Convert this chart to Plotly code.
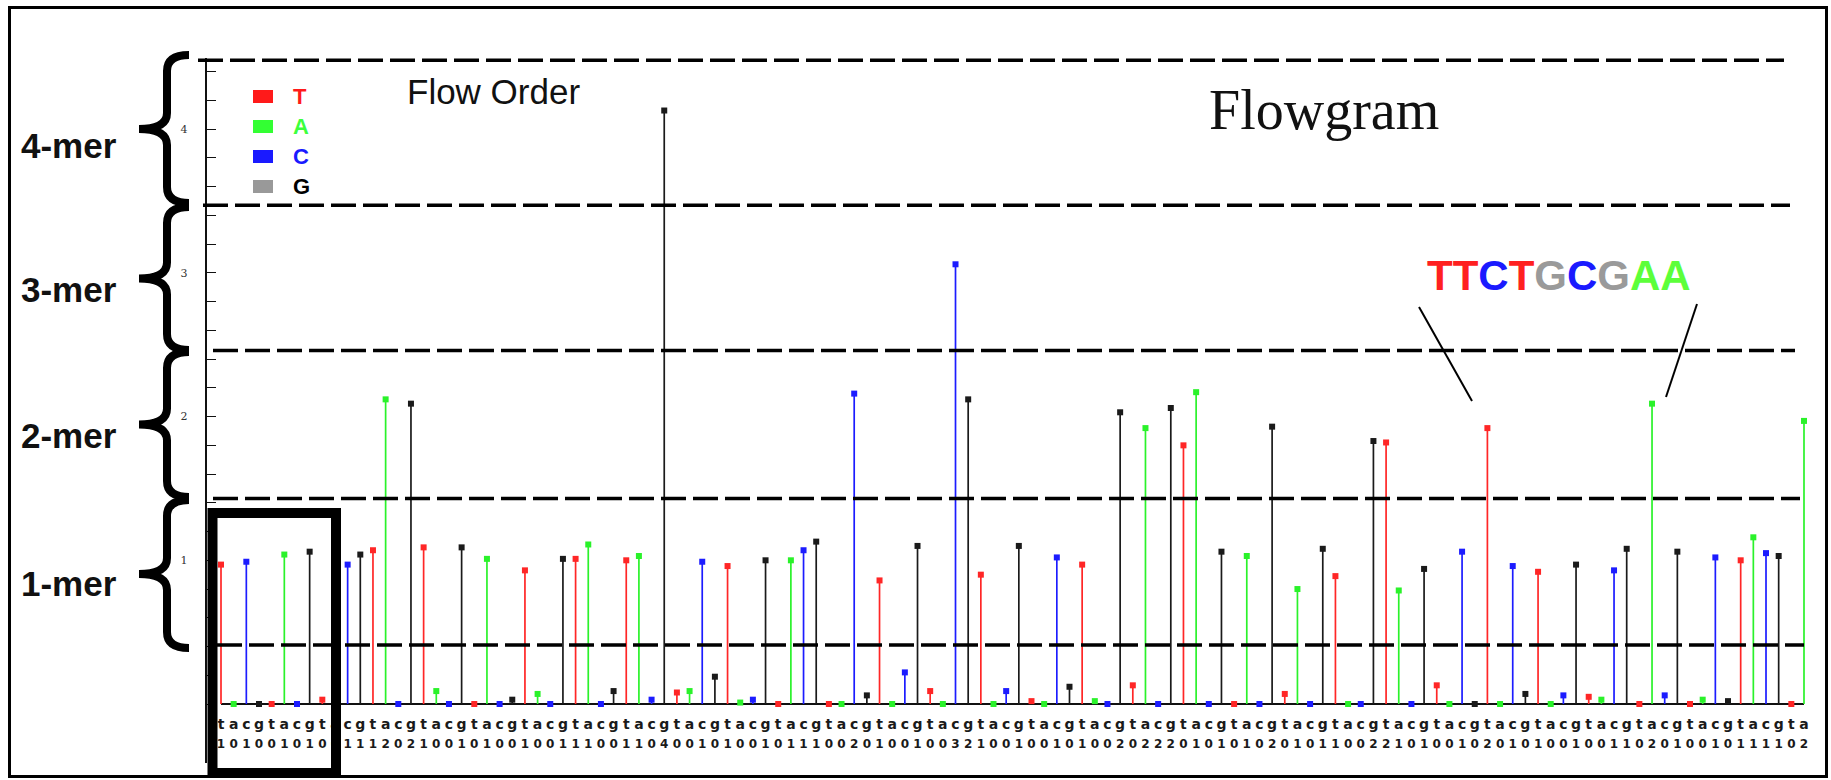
import plotly.graph_objects as go

# ---------------- data ----------------
flow_order = ["T", "A", "C", "G"]

flow_values = [
    0.97, 0.00, 0.99, 0.00, 0.00, 1.04, 0.00, 1.06, 0.03, 0.06,
    0.97, 1.04, 1.07, 2.12, 0.00, 2.09, 1.09, 0.09, 0.00, 1.09,
    0.00, 1.01, 0.00, 0.03, 0.93, 0.07, 0.00, 1.01, 1.01, 1.11,
    0.00, 0.09, 1.00, 1.03, 0.03, 4.13, 0.08, 0.09, 0.99, 0.19,
    0.96, 0.01, 0.03, 1.00, 0.00, 1.00, 1.07, 1.13, 0.00, 0.00,
    2.16, 0.06, 0.86, 0.00, 0.22, 1.10, 0.09, 0.00, 3.06, 2.12,
    0.90, 0.00, 0.09, 1.10, 0.02, 0.00, 1.02, 0.12, 0.97, 0.02,
    0.00, 2.03, 0.13, 1.92, 0.00, 2.06, 1.80, 2.17, 0.00, 1.06,
    0.00, 1.03, 0.00, 1.93, 0.07, 0.80, 0.00, 1.08, 0.89, 0.00,
    0.00, 1.83, 1.82, 0.79, 0.00, 0.94, 0.13, 0.00, 1.06, 0.00,
    1.92, 0.00, 0.96, 0.07, 0.92, 0.00, 0.06, 0.97, 0.05, 0.03,
    0.93, 1.08, 0.00, 2.09, 0.06, 1.06, 0.00, 0.03, 1.02, 0.02,
    1.00, 1.16, 1.05, 1.03, 0.00, 1.97,
]

called_digits = (
    "1010010100" "1112021001" "0100100111" "0011040010"
    "1001011100" "2010010032" "1001001010" "0202220101"
    "0102010110" "0221010010" "2010100100" "1102010010"
    "111102"
)

y_tick_values = [round(0.2 * k, 1) for k in range(0, 23)]
y_tick_labels = ["1", "2", "3", "4"]

mer_labels = ["4-mer", "3-mer", "2-mer", "1-mer"]
mer_thresholds = [0.41, 1.43, 2.46, 3.47, 4.48]

highlight_seq = "TTCTGCGAA"

# ---------------- styles ----------------
stem_colors = {"T": "#ff2626", "A": "#2af22a", "C": "#1c1cff", "G": "#1a1a1a"}
swatch_colors = {"T": "#ff1a1a", "A": "#33ff33", "C": "#1a1aff", "G": "#999999"}
legend_text_colors = {"T": "#ff1a1a", "A": "#3dff3d", "C": "#1a1aff", "G": "#000000"}
seq_colors = {"T": "#ff2020", "C": "#1a1aff", "G": "#9a9a9a", "A": "#5cff3a"}

W, H = 1831, 780


def X(p):
    return p / W


def Y(p):
    return (H - p) / H


# pixel geometry of the plotting frame
first_px, last_px = 221.0, 1804.0
n = len(flow_values)
step = (last_px - first_px) / (n - 1)
x_lo = 1 - first_px / step
x_hi = 1 + (W - first_px) / step

base_px, unit_px = 704.0, 143.7
y_top_px, y_bot_px = 58.0, 763.0
y_lo = (base_px - y_bot_px) / unit_px
y_hi = (base_px - y_top_px) / unit_px

flows = list(range(1, n + 1))
nucs = [flow_order[(i - 1) % 4] for i in flows]

fig = go.Figure()

# baseline
fig.add_trace(go.Scatter(x=[flows[0], flows[-1]], y=[0, 0], mode="lines",
                         line=dict(color="#111111", width=2),
                         hoverinfo="skip", showlegend=False))

for nuc in flow_order:
    xs, ys, mx, my = [], [], [], []
    for i, v, b in zip(flows, flow_values, nucs):
        if b != nuc:
            continue
        xs += [i, i, None]
        ys += [0, v, None]
        mx.append(i)
        my.append(v)
    fig.add_trace(go.Scatter(x=xs, y=ys, mode="lines",
                             line=dict(color=stem_colors[nuc], width=1.7),
                             hoverinfo="skip", showlegend=False))
    fig.add_trace(go.Scatter(x=mx, y=my, mode="markers",
                             marker=dict(symbol="square", size=6, color=stem_colors[nuc],
                                         line=dict(width=0)),
                             cliponaxis=False, name=nuc, showlegend=False))

# flow letters and called digits under the baseline
fig.add_trace(go.Scatter(x=flows, y=[-0.148] * n, mode="text",
                         text=[f"<b>{b.lower()}</b>" for b in nucs],
                         textfont=dict(family="DejaVu Sans", size=14, color="#1a1a1a"),
                         hoverinfo="skip", showlegend=False, cliponaxis=False))
fig.add_trace(go.Scatter(x=flows, y=[-0.287] * n, mode="text",
                         text=[f"<b>{d}</b>" for d in called_digits],
                         textfont=dict(family="DejaVu Sans", size=12, color="#1a1a1a"),
                         hoverinfo="skip", showlegend=False, cliponaxis=False))

shapes = []
# dashed k-mer threshold lines
dash_extents = [(217, 1804), (213, 1800), (213, 1795), (203, 1790), (198, 1784)]
for thr, (a, b) in zip(mer_thresholds, dash_extents):
    shapes.append(dict(type="line", xref="paper", yref="y", x0=X(a), x1=X(b),
                       y0=thr, y1=thr, line=dict(color="black", width=3.5, dash="25px,7px"),
                       layer="above"))

# braces
brace_bounds = [(55, 203), (207, 350), (352, 497), (500, 648)]


def brace_path(yt, yb, xs=167, xt=139, xe=189, r=16):
    ym = (yt + yb) / 2
    pts = [
        f"M {X(xe)},{Y(yt)}",
        f"Q {X(xs)},{Y(yt)} {X(xs)},{Y(yt + r)}",
        f"L {X(xs)},{Y(ym - r)}",
        f"Q {X(xs)},{Y(ym)} {X(xt)},{Y(ym)}",
        f"Q {X(xs)},{Y(ym)} {X(xs)},{Y(ym + r)}",
        f"L {X(xs)},{Y(yb - r)}",
        f"Q {X(xs)},{Y(yb)} {X(xe)},{Y(yb)}",
    ]
    return " ".join(pts)


for yt, yb in brace_bounds:
    shapes.append(dict(type="path", xref="paper", yref="paper", path=brace_path(yt, yb),
                       line=dict(color="black", width=8), fillcolor="rgba(0,0,0,0)",
                       layer="above"))

# highlight box around first flows
shapes.append(dict(type="rect", xref="paper", yref="paper",
                   x0=X(212.5), x1=X(336), y0=Y(773), y1=Y(513),
                   line=dict(color="black", width=10), layer="above"))

# outer border
shapes.append(dict(type="rect", xref="paper", yref="paper",
                   x0=X(9.5), x1=X(1826.5), y0=Y(776.5), y1=Y(7.5),
                   line=dict(color="black", width=3), layer="above"))

# pointer lines from the sequence annotation
shapes.append(dict(type="line", xref="paper", yref="paper",
                   x0=X(1419), y0=Y(307), x1=X(1472), y1=Y(401),
                   line=dict(color="black", width=2), layer="above"))
shapes.append(dict(type="line", xref="paper", yref="paper",
                   x0=X(1697), y0=Y(304), x1=X(1666), y1=Y(397),
                   line=dict(color="black", width=2), layer="above"))

# legend swatches
legend_y = [96.5, 126.5, 156.5, 186.5]
for nuc, yc in zip(flow_order, legend_y):
    shapes.append(dict(type="rect", xref="paper", yref="paper",
                       x0=X(253), x1=X(273), y0=Y(yc + 6.5), y1=Y(yc - 6.5),
                       fillcolor=swatch_colors[nuc], line=dict(width=0), layer="above"))

annotations = []
for nuc, yc in zip(flow_order, legend_y):
    annotations.append(dict(xref="paper", yref="paper", x=X(291), y=Y(yc), xanchor="left",
                            yanchor="middle", showarrow=False, text=f"<b>{nuc}</b>",
                            font=dict(family="Liberation Sans", size=22,
                                      color=legend_text_colors[nuc])))

annotations.append(dict(xref="paper", yref="paper", x=X(405), y=Y(91.5), xanchor="left",
                        yanchor="middle", showarrow=False, text="Flow Order",
                        font=dict(family="Liberation Sans", size=35, color="#111111")))

annotations.append(dict(xref="paper", yref="paper", x=X(1324), y=Y(110), xanchor="center",
                        yanchor="middle", showarrow=False, text="Flowgram",
                        font=dict(family="Liberation Serif", size=56, color="#111111")))

seq_html = "".join(f"<span style='color:{seq_colors[c]}'>{c}</span>" for c in highlight_seq)
annotations.append(dict(xref="paper", yref="paper", x=X(1559), y=Y(275), xanchor="center",
                        yanchor="middle", showarrow=False, text=f"<b>{seq_html}</b>",
                        font=dict(family="Liberation Sans", size=42)))

mer_y = [145, 289.5, 435, 583.5]
for lab, yc in zip(mer_labels, mer_y):
    annotations.append(dict(xref="paper", yref="paper", x=X(19), y=Y(yc), xanchor="left",
                            yanchor="middle", showarrow=False, text=f"<b>{lab}</b>",
                            font=dict(family="Liberation Sans", size=35, color="#111111")))

tick_text = [str(int(round(v))) if str(int(round(v))) in y_tick_labels and abs(v - round(v)) < 1e-9 else ""
             for v in y_tick_values]

fig.update_layout(
    width=W, height=H,
    margin=dict(l=0, r=0, t=0, b=0, pad=0),
    paper_bgcolor="white", plot_bgcolor="white",
    showlegend=False,
    shapes=shapes, annotations=annotations,
    xaxis=dict(domain=[0, 1], range=[x_lo, x_hi], visible=False, fixedrange=True),
    yaxis=dict(domain=[Y(y_bot_px), Y(y_top_px)], range=[y_lo, y_hi],
               anchor="free", position=X(205.5), showgrid=False, zeroline=False,
               showline=True, linecolor="#111111", linewidth=1.5,
               ticks="inside", ticklen=10, tickwidth=1, tickcolor="#111111",
               tickmode="array", tickvals=y_tick_values, ticktext=tick_text,
               ticklabelstandoff=15, automargin=False,
               tickfont=dict(family="DejaVu Serif", size=11, color="#333333"),
               fixedrange=True),
)

fig.write_html("out.html", config={"displayModeBar": False},
               post_script="document.body.style.margin='0';document.body.style.overflow='hidden';")
